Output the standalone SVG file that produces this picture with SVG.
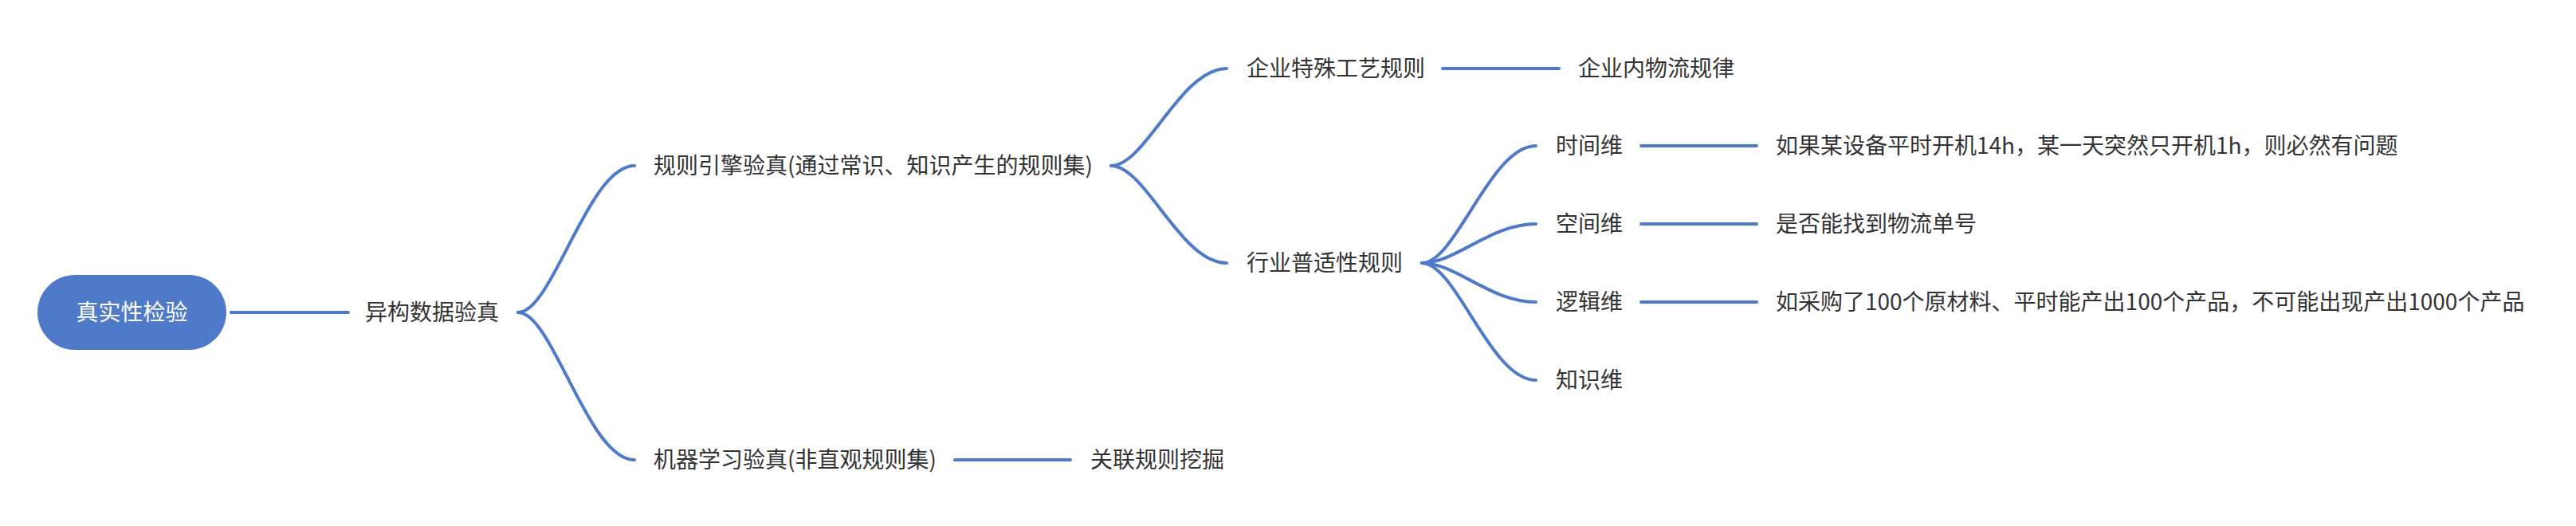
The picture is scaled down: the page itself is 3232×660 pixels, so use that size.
<svg xmlns="http://www.w3.org/2000/svg" width="3232" height="660" viewBox="0 0 3232 660">
<style>
.t{font-family:"Noto Sans CJK SC","Noto Sans",sans-serif;font-size:28px;fill:#333333}
.rt{font-family:"Noto Sans CJK SC","Noto Sans",sans-serif;font-size:28px;fill:#ffffff}
.c{fill:none;stroke:#4f7ac9;stroke-width:4;stroke-linecap:round}
</style>
<rect width="3232" height="660" fill="#ffffff"/>
<g id="connectors">
<path class="c" d="M290 392H437"/>
<path class="c" d="M650 392C693.8 392 737.6 208 796 208"/>
<path class="c" d="M650 392C693.8 392 737.6 577 796 577"/>
<path class="c" d="M1198 577H1343"/>
<path class="c" d="M1394 208C1437.5 208 1481 86 1539 86"/>
<path class="c" d="M1394 208C1437.5 208 1481 330 1539 330"/>
<path class="c" d="M1810 86H1956"/>
<path class="c" d="M1784 330C1826.9 330 1869.8 183 1927 183"/>
<path class="c" d="M1784 330C1826.9 330 1869.8 281 1927 281"/>
<path class="c" d="M1784 330C1826.9 330 1869.8 379 1927 379"/>
<path class="c" d="M1784 330C1826.9 330 1869.8 477 1927 477"/>
<path class="c" d="M2059 183H2204"/>
<path class="c" d="M2059 281H2204"/>
<path class="c" d="M2059 379H2204"/>
</g>
<g id="root">
<rect x="47" y="345" width="237" height="94" rx="47" fill="#4f7ac9"/>
<text class="rt" x="165.5" y="402" text-anchor="middle">真实性检验</text>
</g>
<g id="n1"><text class="t" x="458" y="402">异构数据验真</text></g>
<g id="n2"><text class="t" x="820" y="218">规则引擎验真(通过常识、知识产生的规则集)</text></g>
<g id="n3"><text class="t" x="820" y="587">机器学习验真(非直观规则集)</text></g>
<g id="n4"><text class="t" x="1368" y="587">关联规则挖掘</text></g>
<g id="n5"><text class="t" x="1564" y="96">企业特殊工艺规则</text></g>
<g id="n6"><text class="t" x="1980" y="96">企业内物流规律</text></g>
<g id="n7"><text class="t" x="1564" y="340">行业普适性规则</text></g>
<g id="n8"><text class="t" x="1952" y="193">时间维</text></g>
<g id="n9"><text class="t" x="1952" y="291">空间维</text></g>
<g id="n10"><text class="t" x="1952" y="389">逻辑维</text></g>
<g id="n11"><text class="t" x="1952" y="487">知识维</text></g>
<g id="n12"><text class="t" x="2228" y="193">如果某设备平时开机14h，某一天突然只开机1h，则必然有问题</text></g>
<g id="n13"><text class="t" x="2228" y="291">是否能找到物流单号</text></g>
<g id="n14"><text class="t" x="2228" y="389">如采购了100个原材料、平时能产出100个产品，不可能出现产出1000个产品</text></g>
</svg>
